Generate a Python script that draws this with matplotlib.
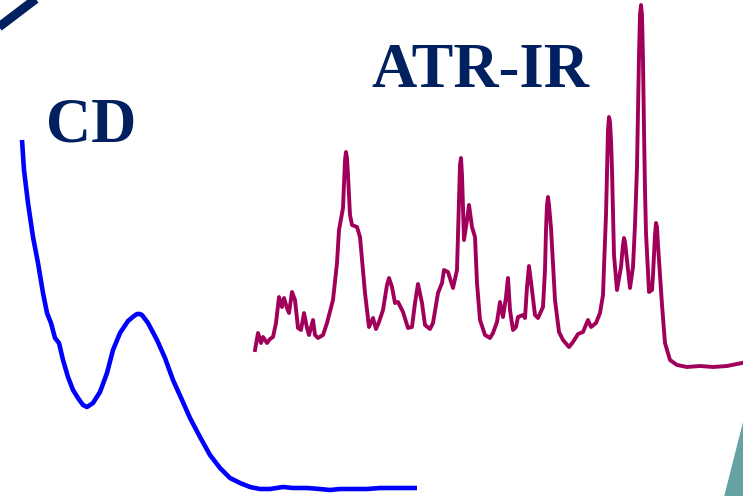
import matplotlib
matplotlib.use("Agg")
import matplotlib.pyplot as plt
from matplotlib.patches import Polygon

# CD curve (position, signal) in picture units
cd_x = [22, 24, 28, 33, 38, 43, 47, 51, 55, 59, 63, 68, 73, 78, 83, 87, 93, 100,
        107, 113, 120, 128, 134, 137, 140, 142, 148, 157, 165, 173, 182, 190,
        200, 210, 220, 230, 240, 250, 260, 270, 283, 293, 307, 320, 330, 340,
        353, 367, 380, 393, 407, 417]
cd_y = [140, 170, 203, 237, 263, 293, 313, 323, 338, 343, 360, 377, 390, 398,
        405, 407, 403, 392, 373, 350, 333, 321, 316, 314, 314, 315, 323, 340,
        358, 380, 400, 418, 437, 455, 468, 478, 483, 487, 489, 489, 487, 488,
        488, 489, 490, 489, 489, 489, 488, 488, 488, 488]

# ATR-IR spectrum (position, signal) in picture units
ir_x = [255, 258, 261, 263, 267, 270, 273, 276, 279, 282, 284, 287, 289, 292,
        295, 298, 301, 304, 307, 309, 313, 315, 318, 323, 327, 333, 337, 339,
        343, 344, 345, 346, 347, 348, 350, 352, 357, 360, 365, 369, 373, 376,
        379, 383, 387, 389, 392, 395, 398, 403, 408, 412, 415, 418, 422, 425,
        430, 433, 438, 442, 444, 448, 453, 457, 459, 460, 461, 462, 463, 464,
        467, 469, 472, 475, 477, 480, 485, 490, 493, 497, 500, 503, 506, 508,
        510, 513, 516, 518, 523, 525, 527, 529, 532, 535, 538, 543, 545, 546,
        547, 548, 549, 551, 555, 559, 563, 569, 573, 578, 583, 588, 591, 596,
        600, 603, 604, 606, 607, 608, 609, 610, 611, 612, 613, 614, 617, 621,
        623, 624, 625, 627, 630, 633, 635, 637, 638, 639, 640, 641, 642, 643,
        644, 645, 646, 649, 652, 653, 655, 656, 657, 658, 660, 662, 665, 670,
        677, 687, 700, 713, 727, 742]
ir_y = [350, 333, 343, 337, 343, 339, 337, 323, 297, 307, 298, 308, 313, 292,
        300, 328, 330, 313, 328, 335, 320, 335, 338, 335, 323, 300, 263, 230,
        208, 185, 160, 152, 158, 175, 215, 225, 227, 237, 293, 327, 318, 329,
        322, 310, 285, 278, 287, 303, 302, 312, 328, 327, 303, 284, 303, 325,
        329, 323, 293, 283, 270, 272, 288, 270, 200, 165, 158, 175, 207, 240,
        220, 205, 227, 237, 283, 320, 335, 338, 333, 322, 302, 317, 297, 278,
        310, 330, 327, 317, 315, 318, 287, 266, 290, 315, 318, 307, 270, 230,
        205, 197, 205, 228, 300, 332, 340, 347, 342, 334, 332, 320, 327, 323,
        313, 295, 267, 215, 170, 130, 117, 122, 140, 170, 215, 255, 290, 267,
        245, 238, 242, 260, 288, 267, 225, 167, 110, 55, 15, 5, 15, 60, 130,
        190, 233, 292, 290, 275, 235, 223, 227, 245, 275, 305, 343, 360, 365,
        367, 366, 367, 366, 363]

W, H = 743, 496
fig = plt.figure(figsize=(W / 100, H / 100), dpi=100)
ax = fig.add_axes([0, 0, 1, 1])
ax.set_xlim(0, W)
ax.set_ylim(H, 0)
ax.axis("off")

# decorative elements
ax.plot([-5, 41], [30, -5], color="#002060", lw=6.5, solid_capstyle="butt")
ax.add_patch(Polygon([(724, 497), (744, 418), (744, 497)], closed=True,
                     facecolor="#65A2A3", edgecolor="none"))

ax.plot(cd_x, cd_y, color="#0000FF", lw=3.3, solid_joinstyle="round",
        solid_capstyle="butt")
ax.plot(ir_x, ir_y, color="#A0005A", lw=2.8, solid_joinstyle="round")

ax.text(46, 141, "CD", fontsize=45, fontweight="bold", family="Liberation Serif",
        color="#002060", ha="left", va="baseline")
ax.text(371, 87, "ATR-IR", fontsize=45, fontweight="bold", family="Liberation Serif",
        color="#002060", ha="left", va="baseline")

fig.savefig("out.png", dpi=100)
